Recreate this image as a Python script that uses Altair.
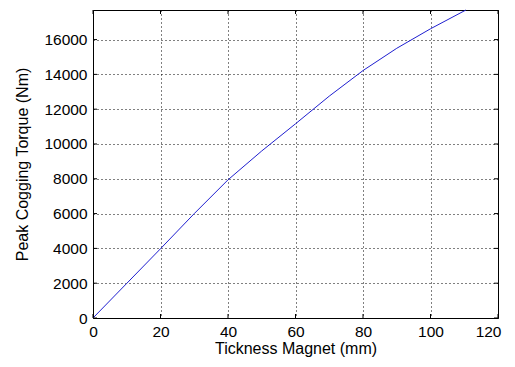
import altair as alt
import pandas as pd

thickness = [0, 10, 20, 30, 40, 50, 60, 70, 80, 90, 100, 110.5]
torque = [0, 1990, 3980, 6000, 7940, 9600, 11160, 12750, 14220, 15500, 16620, 17700]
x_ticks = [0, 20, 40, 60, 80, 100, 120]
y_ticks = [0, 2000, 4000, 6000, 8000, 10000, 12000, 14000, 16000]

W, H = 405, 308
FONT = "Liberation Sans"

df = pd.DataFrame({"x": thickness, "y": torque})
xs = alt.Scale(domain=[0, 120], nice=False)
ys = alt.Scale(domain=[0, 17700], nice=False)

common = dict(grid=True, gridDash=[1, 3], gridColor="black", gridOpacity=1,
              ticks=False, domain=False, labelOverlap=False, labelFlush=False,
              format="d")
x_axis = alt.Axis(
    values=x_ticks, labelPadding=6, titlePadding=1,
    labelAlign={"condition": {"test": "datum.value === 120", "value": "right"}, "value": "center"},
    labelOffset={"condition": {"test": "datum.value === 120", "value": 3}, "value": 0},
    **common)
y_axis = alt.Axis(values=y_ticks, labelPadding=6, titlePadding=13, **common)
XT = "Tickness Magnet (mm)"
YT = "Peak Cogging Torque (Nm)"

line = alt.Chart(df).mark_line(color="#1f1fd0", strokeWidth=1).encode(
    x=alt.X("x:Q", scale=xs, title=XT, axis=x_axis),
    y=alt.Y("y:Q", scale=ys, title=YT, axis=y_axis),
)

xt = pd.DataFrame({"x": x_ticks})
yt = pd.DataFrame({"y": y_ticks})
tb = alt.Chart(xt).mark_rule(color="black").encode(
    x=alt.X("x:Q", scale=xs, title=XT, axis=x_axis), y=alt.value(H), y2=alt.value(H - 4))
tt = alt.Chart(xt).mark_rule(color="black").encode(
    x=alt.X("x:Q", scale=xs, title=XT, axis=x_axis), y=alt.value(0), y2=alt.value(4))
tl = alt.Chart(yt).mark_rule(color="black").encode(
    y=alt.Y("y:Q", scale=ys, title=YT, axis=y_axis), x=alt.value(0), x2=alt.value(4))
tr = alt.Chart(yt).mark_rule(color="black").encode(
    y=alt.Y("y:Q", scale=ys, title=YT, axis=y_axis), x=alt.value(W - 4), x2=alt.value(W))

chart = alt.layer(line, tb, tt, tl, tr).properties(
    width=W, height=H,
    autosize=alt.AutoSizeParams(type="none"),
    padding={"left": 85, "top": 2, "right": 9, "bottom": 41},
).configure_view(stroke="black", strokeWidth=1).configure_axis(
    labelFont=FONT, titleFont=FONT, labelFontSize=15.5, titleFontSize=16,
    labelColor="black", titleColor="black", titleFontWeight="normal",
)

chart.save("out.html", embed_options={"renderer": "svg", "actions": False})
